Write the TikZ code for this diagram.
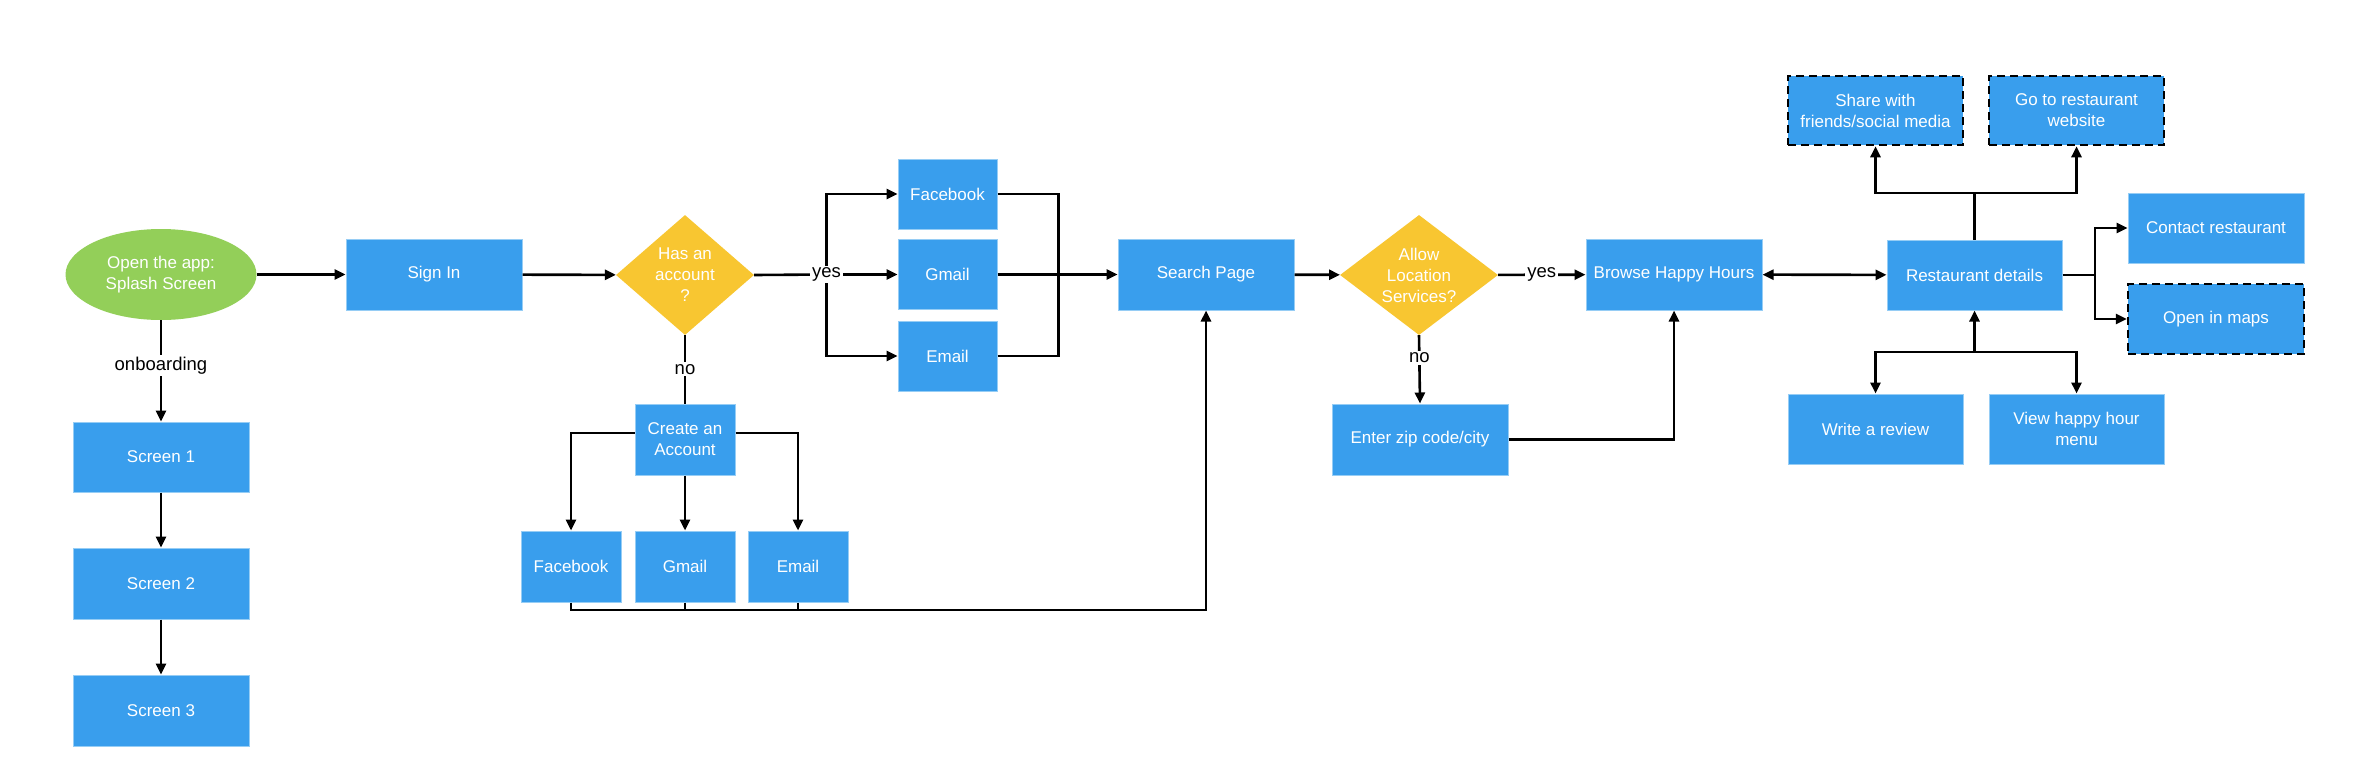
\documentclass[tikz,border=0pt]{standalone}
\usepackage{fontspec}
\setmainfont{Liberation Sans}
\usetikzlibrary{arrows.meta,shapes.geometric}
\definecolor{boxblue}{RGB}{57,158,237}
\definecolor{boxedge}{RGB}{150,205,245}
\definecolor{greenfill}{RGB}{147,207,89}
\definecolor{yellowfill}{RGB}{248,198,49}
\newcommand\boxfont{\fontsize{17pt}{21pt}\selectfont}
\newcommand\labfont{\fontsize{18.5pt}{22pt}\selectfont}
\tikzset{
  box/.style={rectangle, fill=boxblue, draw=boxedge, line width=1pt, text=white,
    font=\boxfont, align=center, inner sep=0pt, minimum width=176pt, minimum height=71pt},
  dbox/.style={box, draw=black, line width=2.5pt, dash pattern=on 8pt off 5pt},
  oval/.style={ellipse, fill=greenfill, text=white, font=\boxfont, align=center,
    inner sep=0pt, minimum width=191pt, minimum height=91pt},
  dia/.style={diamond, fill=yellowfill, inner sep=0pt},
  dlab/.style={text=white, font=\boxfont, align=center},
  lab/.style={fill=white, text=black, font=\labfont, inner sep=2pt},
  conn/.style={line width=2.6pt, draw=black},
  arr/.style={conn, -{Triangle[length=11pt,width=10pt]}},
  darr/.style={conn, {Triangle[length=11pt,width=10pt]}-{Triangle[length=11pt,width=10pt]}}
}
\begin{document}
\begin{tikzpicture}[x=1pt,y=-1pt]
\useasboundingbox[fill=white] (0,0) rectangle (2368,782);

% nodes
\node[oval] (splash) at (161,274.5) {Open the app:\\Splash Screen};
\node[box] (signin) at (434,274.5) {Sign In};
\node[dia, minimum width=138pt, minimum height=120pt,
  label={[dlab]center:{Has an\\account\\?}}] (hasacc) at (685,275) {};
\node[box, minimum width=99pt, minimum height=70pt] (fb1) at (947.5,194) {Facebook};
\node[box, minimum width=99pt, minimum height=70pt] (gm1) at (947.5,274.5) {Gmail};
\node[box, minimum width=99pt, minimum height=70pt] (em1) at (947.5,356) {Email};
\node[box] (search) at (1206,274.5) {Search Page};
\node[dia, minimum width=158pt, minimum height=120pt,
  label={[dlab]center:{Allow\\Location\\Services?}}] (allow) at (1419,275) {};
\node[box] (browse) at (1674,274.5) {Browse Happy Hours};
\node[box, minimum width=175pt, minimum height=70pt] (rd) at (1974.5,275) {Restaurant details};
\node[dbox, minimum width=175pt, minimum height=69pt] (share) at (1875.5,110.5) {Share with\\friends/social media};
\node[dbox, minimum width=175pt, minimum height=69pt] (goweb) at (2076.5,110.5) {Go to restaurant\\website};
\node[box, minimum height=70pt] (contact) at (2216,228) {Contact restaurant};
\node[dbox, minimum height=70pt] (maps) at (2216,319) {Open in maps};
\node[box, minimum width=175pt, minimum height=70pt] (review) at (1875.5,429) {Write a review};
\node[box, minimum width=175pt, minimum height=70pt] (menu) at (2076.5,429) {View happy hour\\menu};
\node[box] (zip) at (1420,439.5) {Enter zip code/city};
\node[box, minimum width=100pt] (create) at (685,439.5) {Create an\\Account};
\node[box, minimum width=100pt] (fb2) at (571,566.5) {Facebook};
\node[box, minimum width=100pt] (gm2) at (685,566.5) {Gmail};
\node[box, minimum width=100pt] (em2) at (798,566.5) {Email};
\node[box, minimum height=70pt] (s1) at (161,457) {Screen 1};
\node[box] (s2) at (161,583.5) {Screen 2};
\node[box] (s3) at (161,710.5) {Screen 3};

% junctions
\coordinate (ysplit) at (826.5,274.5);
\coordinate (ymerge) at (1058.7,274.5);
\coordinate (bottom) at (1206,610);
\coordinate (rtop) at (1974.5,193);
\coordinate (rright) at (2095,275);
\coordinate (rbot) at (1974.5,352);

% connectors
\draw[arr] (splash) -- (signin);
\draw[arr] (signin) -- (hasacc);
\draw[conn] (hasacc.east) -- (ysplit);
\draw[arr] (ysplit) |- (fb1.west);
\draw[arr] (ysplit) -- (gm1.west);
\draw[arr] (ysplit) |- (em1.west);
\draw[conn] (fb1.east) -| (ymerge);
\draw[conn] (em1.east) -| (ymerge);
\draw[arr] (gm1.east) -- (search.west);
\node[lab] (yes1) at (ysplit) {yes};

\draw[conn] (hasacc.south) -- node[lab] (no1) {no} (create.north);
\draw[arr] ([yshift=6.5pt]create.west) -| (fb2.north);
\draw[arr] (create.south) -- (gm2.north);
\draw[arr] ([yshift=6.5pt]create.east) -| (em2.north);
\draw[arr] (fb2.south) |- (bottom) -- (search.south);
\draw[conn] (gm2.south) -- (gm2.south |- bottom);
\draw[conn] (em2.south) -- (em2.south |- bottom);

\draw[arr] (search) -- (allow);
\draw[arr] (allow) -- node[lab] (yes2) {yes} (browse);
\draw[arr] (allow.south) -- node[lab, pos=0.33] (no2) {no} (zip.north);
\draw[arr] (zip.east) -| (browse.south);
\draw[darr] (browse) -- (rd);

\draw[conn] (rd.north) -- (rtop);
\draw[arr] (rtop) -| (share.south);
\draw[arr] (rtop) -| (goweb.south);
\draw[conn] (rd.east) -- (rright);
\draw[arr] (rright) |- (contact.west);
\draw[arr] (rright) |- (maps.west);
\draw[arr] (rbot) -- (rd.south);
\draw[arr] (rbot) -| (review.north);
\draw[arr] (rbot) -| (menu.north);

\draw[arr] (splash) -- node[lab, pos=0.45] (onb) {onboarding} (s1);
\draw[arr] (s1) -- (s2);
\draw[arr] (s2) -- (s3);
\end{tikzpicture}
\end{document}
